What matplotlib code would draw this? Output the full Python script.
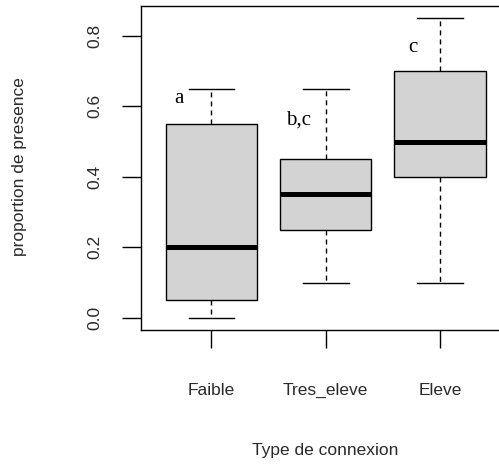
import matplotlib
matplotlib.use("Agg")
import matplotlib.pyplot as plt

# ---- data ----
categories = ["Faible", "Tres_eleve", "Eleve"]
whisker_low = [0.0, 0.10, 0.10]
q1 = [0.05, 0.25, 0.40]
median = [0.20, 0.35, 0.50]
q3 = [0.55, 0.45, 0.70]
whisker_high = [0.65, 0.65, 0.85]
yticks = [0.0, 0.2, 0.4, 0.6, 0.8]
ytick_labels = ["0.0", "0.2", "0.4", "0.6", "0.8"]
letters = ["a", "b,c", "c"]
letter_x = [0.712, 1.766, 2.759]
letter_y = [0.609, 0.547, 0.754]

W, H = 499, 474
fig = plt.figure(figsize=(W / 100, H / 100), dpi=100)
left_px, right_px, top_px, bottom_px = 140.5, 511, 6, 330
ax = fig.add_axes([left_px / W, (H - bottom_px) / H,
                   (right_px - left_px) / W, (bottom_px - top_px) / H])

stats = []
for i, c in enumerate(categories):
    stats.append(dict(label=c, whislo=whisker_low[i], q1=q1[i], med=median[i],
                      q3=q3[i], whishi=whisker_high[i], fliers=[]))

ax.bxp(stats, positions=[1, 2, 3], widths=0.8, patch_artist=True,
       showfliers=False,
       boxprops=dict(facecolor="#d3d3d3", edgecolor="black", linewidth=1.0),
       medianprops=dict(color="black", linewidth=3.6, solid_capstyle="butt"),
       whiskerprops=dict(color="black", linewidth=1.0, linestyle=(0, (3.6, 2.9))),
       capprops=dict(color="black", linewidth=1.0),
       capwidths=0.4)

ax.set_xlim(0.38, 3.62)
ax.set_ylim(-0.034, 0.884)

for sp in ax.spines.values():
    sp.set_linewidth(1.0)
    sp.set_color("black")

ax.set_xticks([1, 2, 3])
ax.set_xticklabels(categories, fontsize=12.5, family="Liberation Sans", color="#2a2a2a")
ax.set_yticks(yticks)
ax.set_yticklabels(ytick_labels, fontsize=12.5, family="Liberation Sans", color="#2a2a2a",
                   rotation=90, va="center", ha="right")
ax.tick_params(axis="x", length=13.3, width=1.0, pad=25.0, color="black")
ax.tick_params(axis="y", length=13.7, width=1.0, pad=13.5, color="black")

for t, x, y in zip(letters, letter_x, letter_y):
    ax.text(x, y, t, ha="center", va="baseline", fontsize=15,
            family="Liberation Serif", color="black")

fig.text(325.5 / W, 1 - 455 / H, "Type de connexion", ha="center", va="baseline",
         fontsize=12.5, family="Liberation Sans", color="#2a2a2a")
fig.text(24.5 / W, 1 - 167 / H, "proportion de presence", ha="center", va="baseline",
         rotation=90, rotation_mode="anchor",
         fontsize=12.5, family="Liberation Sans", color="#2a2a2a")

fig.savefig("out.png", dpi=100)
